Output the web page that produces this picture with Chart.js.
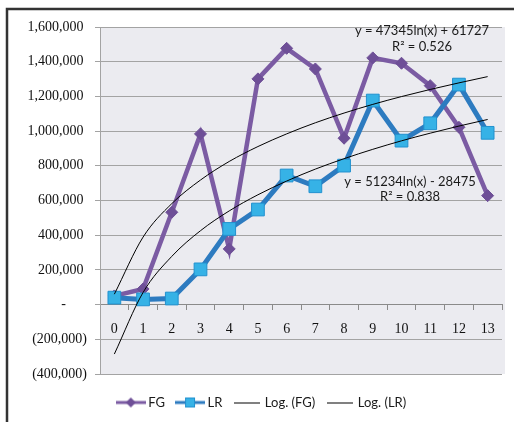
<!doctype html>
<html lang="en">
<head>
<meta charset="utf-8">
<title>FG vs LR</title>
<script src="https://cdn.jsdelivr.net/npm/chart.js"></script>
<style>
  html, body { margin: 0; padding: 0; background: #fff; }
  #wrap { position: relative; width: 514px; height: 422px; }
</style>
</head>
<body>
<div id="wrap"><canvas id="chart" width="514" height="422"></canvas></div>
<script>
// values
const categories = ['0','1','2','3','4','5','6','7','8','9','10','11','12','13'];
const fgValues = [50000, 90000, 532000, 984000, 321000, 1301000, 1477000, 1358000, 959000, 1422000, 1391000, 1262000, 1022000, 628000];
const lrValues = [40000, 30000, 35000, 203000, 436000, 548000, 744000, 682000, 801000, 1176000, 945000, 1045000, 1268000, 990000];
// trend lines as drawn in the picture
const fgTrend = [60000, 389000, 582000, 718000, 825000, 911000, 984000, 1048000, 1104000, 1154000, 1199000, 1240000, 1278000, 1314000];
const lrTrend = [-285000, 70000, 278000, 426000, 540000, 633000, 712000, 781000, 841000, 895000, 944000, 988000, 1029000, 1067000];
const yTicks = [-400000, 1600000, 200000]; // min, max, step
const fgEquation = ['y = 47345ln(x) + 61727', 'R\u00b2 = 0.526'];
const lrEquation = ['y = 51234ln(x) - 28475', 'R\u00b2 = 0.838'];

const PURPLE = '#7b5ba3';
const BLUE = '#2d7bc0';
const SQUARE = '#36b2e6';

function legendIcon(kind) {
  const c = document.createElement('canvas');
  c.width = 30; c.height = 14;
  const g = c.getContext('2d');
  if (kind === 'fg') {
    g.strokeStyle = PURPLE; g.lineWidth = 3;
    g.beginPath(); g.moveTo(0, 7); g.lineTo(30, 7); g.stroke();
    g.fillStyle = '#6e4f97';
    g.beginPath(); g.moveTo(15, 2); g.lineTo(20, 7); g.lineTo(15, 12); g.lineTo(10, 7); g.closePath(); g.fill();
  } else if (kind === 'lr') {
    g.strokeStyle = BLUE; g.lineWidth = 3;
    g.beginPath(); g.moveTo(0, 7); g.lineTo(30, 7); g.stroke();
    g.fillStyle = SQUARE; g.fillRect(10, 2, 10, 10);
    g.strokeStyle = '#2191cf'; g.lineWidth = 1; g.strokeRect(10.5, 2.5, 9, 9);
  } else {
    c.width = 26;
    g.strokeStyle = '#000'; g.lineWidth = 1;
    g.beginPath(); g.moveTo(0, 7.5); g.lineTo(26, 7.5); g.stroke();
  }
  return c;
}

function fmt(v) {
  return Math.abs(v).toString().replace(/\B(?=(\d{3})+(?!\d))/g, ',');
}

const framePlugin = {
  id: 'frame',
  afterLayout(chart) {
    // push the legend row down a little, like the original
    const lg = chart.legend;
    if (lg) { lg.top += 8; lg.bottom += 8; }
  },
  beforeDraw(chart) {
    const ctx = chart.ctx, a = chart.chartArea;
    ctx.save();
    ctx.fillStyle = '#fff';
    ctx.fillRect(0, 0, chart.width, chart.height);
    ctx.fillStyle = '#ebebf0';
    ctx.fillRect(a.left, a.top, a.right - a.left + 3, a.bottom - a.top);
    ctx.restore();
  },
  afterDraw(chart) {
    const ctx = chart.ctx;
    ctx.save();
    ctx.strokeStyle = '#333';
    ctx.lineWidth = 2.5;
    ctx.beginPath();
    ctx.moveTo(7, chart.height);
    ctx.lineTo(7, 9);
    ctx.lineTo(chart.width, 9);
    ctx.stroke();
    // trend line equations
    ctx.fillStyle = '#1a1a1a';
    ctx.font = '13px Lato';
    ctx.textAlign = 'center';
    ctx.textBaseline = 'middle';
    ctx.fillText(fgEquation[0], 422, 31);
    ctx.fillText(fgEquation[1], 422, 47);
    ctx.fillText(lrEquation[0], 410, 182);
    ctx.fillText(lrEquation[1], 410, 197);
    ctx.restore();
  }
};

const icons = { fg: legendIcon('fg'), lr: legendIcon('lr'), log: legendIcon('log') };

new Chart(document.getElementById('chart'), {
  type: 'line',
  data: {
    labels: categories,
    datasets: [
      { label: 'FG', data: fgValues, borderColor: PURPLE, borderWidth: 4.5,
        pointStyle: 'rectRot', pointRadius: 6, pointBackgroundColor: '#6e4f97',
        pointBorderColor: '#6e4f97', pointBorderWidth: 1, order: 3, icon: icons.fg },
      { label: 'LR', data: lrValues, borderColor: BLUE, borderWidth: 5,
        pointStyle: 'rect', pointRadius: 9, pointBackgroundColor: SQUARE,
        pointBorderColor: '#2191cf', pointBorderWidth: 1, order: 2, icon: icons.lr },
      { label: 'Log. (FG)', data: fgTrend, borderColor: '#000', borderWidth: 1,
        pointRadius: 0, cubicInterpolationMode: 'monotone', order: 1, icon: icons.log },
      { label: 'Log. (LR)', data: lrTrend, borderColor: '#000', borderWidth: 1,
        pointRadius: 0, cubicInterpolationMode: 'monotone', order: 0, icon: icons.log }
    ]
  },
  options: {
    responsive: false,
    animation: false,
    layout: { padding: { left: 24, top: 27, right: 12, bottom: 11 } },
    plugins: {
      tooltip: { enabled: false },
      legend: {
        position: 'bottom',
        labels: {
          usePointStyle: true,
          pointStyleWidth: 22,
          padding: 14,
          color: '#1a1a1a',
          font: { family: 'Lato', size: 13 },
          generateLabels(chart) {
            return chart.data.datasets.map((ds, i) => ({
              text: ds.label, pointStyle: ds.icon, datasetIndex: i,
              fillStyle: 'transparent', strokeStyle: 'transparent', lineWidth: 0, fontColor: '#1a1a1a'
            }));
          }
        }
      }
    },
    scales: {
      x: {
        position: { y: 0 },
        offset: true,
        grid: { offset: true, drawOnChartArea: false, drawTicks: true, tickLength: 5, color: '#8a8a8a' },
        border: { display: true, color: '#8a8a8a', width: 1 },
        ticks: { color: '#111', padding: 11, font: { family: 'Liberation Serif', size: 14 }, maxRotation: 0, autoSkip: false }
      },
      y: {
        min: yTicks[0], max: yTicks[1],
        ticks: {
          stepSize: yTicks[2],
          color: '#111',
          padding: 8,
          font: { family: 'Liberation Serif', size: 14 },
          callback(v) {
            if (v === 0) return '-      ';
            if (v < 0) return '(' + fmt(v) + ')';
            return fmt(v) + ' ';
          }
        },
        grid: { color: '#a3a3a3', tickLength: 5, lineWidth: 1 },
        border: { display: true, color: '#a3a3a3' },
        afterFit(scale) { scale.width = 76; }
      }
    }
  },
  plugins: [framePlugin]
});
</script>
</body>
</html>
